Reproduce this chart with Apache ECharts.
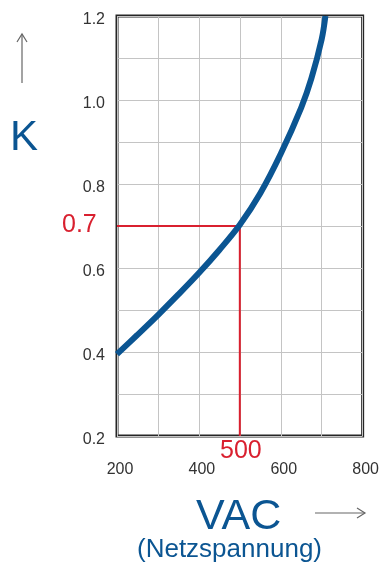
<!DOCTYPE html>
<html>
<head>
<meta charset="utf-8">
<script src="https://cdn.jsdelivr.net/npm/echarts@6/dist/echarts.min.js"></script>
<style>
  html, body { margin: 0; padding: 0; background: #fff; }
  #chart { width: 382px; height: 564px; }
</style>
</head>
<body>
<div id="chart"></div>
<script>
// K over mains voltage
var vac = [200, 250, 300, 350, 400, 450, 500, 550, 600, 650, 675, 700, 709];
var kVal = [0.395, 0.441, 0.488, 0.537, 0.588, 0.643, 0.703, 0.778, 0.872, 0.982, 1.052, 1.145, 1.2];
// red reading guide at 500 VAC -> 0.7
var guideX = [200, 500, 500];
var guideY = [0.7, 0.7, 0.2];

var FONT = '"Liberation Sans", Arial, sans-serif';
var BLUE = '#0b5592';
var RED = '#d9202f';

var chart = echarts.init(document.getElementById('chart'));

var curve = vac.map(function (v, i) { return [v, kVal[i]]; });
var guide = guideX.map(function (v, i) { return [v, guideY[i]]; });

chart.setOption({
  animation: false,
  grid: {
    left: 117, right: 19, top: 16, bottom: 128,
    show: true, borderColor: '#262626', borderWidth: 3, backgroundColor: 'transparent'
  },
  xAxis: {
    type: 'value', min: 200, max: 800, interval: 100,
    axisLine: { show: false },
    axisTick: { show: false },
    splitLine: { show: true, lineStyle: { color: '#c4c4c4', width: 1 } },
    axisLabel: {
      margin: 26, fontSize: 16, color: '#333', fontFamily: FONT,
      padding: [0, 0, 0, 6],
      formatter: function (v) { return (v % 200 === 0) ? String(v) : ''; }
    }
  },
  yAxis: {
    type: 'value', min: 0.2, max: 1.2, interval: 0.1,
    axisLine: { show: false },
    axisTick: { show: false },
    splitLine: { show: true, lineStyle: { color: '#c4c4c4', width: 1 } },
    axisLabel: {
      margin: 12, fontSize: 16, color: '#333', fontFamily: FONT,
      verticalAlign: 'top', lineHeight: 8,
      formatter: function (v) {
        var n = Math.round(v * 10);
        return (n % 2 === 0) ? (n / 10).toFixed(1) : '';
      }
    }
  },
  series: [
    {
      type: 'line', data: guide, symbol: 'none', silent: true,
      lineStyle: { color: RED, width: 2 }, z: 2
    },
    {
      type: 'line', data: curve, smooth: 0.35, symbol: 'none', silent: true,
      lineStyle: { color: BLUE, width: 6 }, z: 3
    }
  ],
  graphic: [
    { type: 'text', left: 62, top: 213, style: { text: '0.7', fill: RED, font: '25px ' + FONT } },
    { type: 'text', left: 220, top: 439, style: { text: '500', fill: RED, font: '25px ' + FONT } },
    { type: 'text', left: 10, top: 117, style: { text: 'K', fill: BLUE, font: '42px ' + FONT } },
    { type: 'text', left: 196, top: 496, style: { text: 'VAC', fill: BLUE, font: '43px ' + FONT } },
    { type: 'text', left: 137, top: 537, style: { text: '(Netzspannung)', fill: BLUE, font: '26px ' + FONT } },
    // up arrow next to K
    { type: 'line', shape: { x1: 22, y1: 34, x2: 22, y2: 83 }, style: { stroke: '#666', lineWidth: 1.2 } },
    { type: 'polyline', shape: { points: [[17, 42], [22, 34], [27, 42]] }, style: { stroke: '#666', lineWidth: 1.2, fill: null } },
    // right arrow next to VAC
    { type: 'line', shape: { x1: 315, y1: 513, x2: 365, y2: 513 }, style: { stroke: '#666', lineWidth: 1.2 } },
    { type: 'polyline', shape: { points: [[357, 508], [365, 513], [357, 518]] }, style: { stroke: '#666', lineWidth: 1.2, fill: null } }
  ]
});
</script>
</body>
</html>
